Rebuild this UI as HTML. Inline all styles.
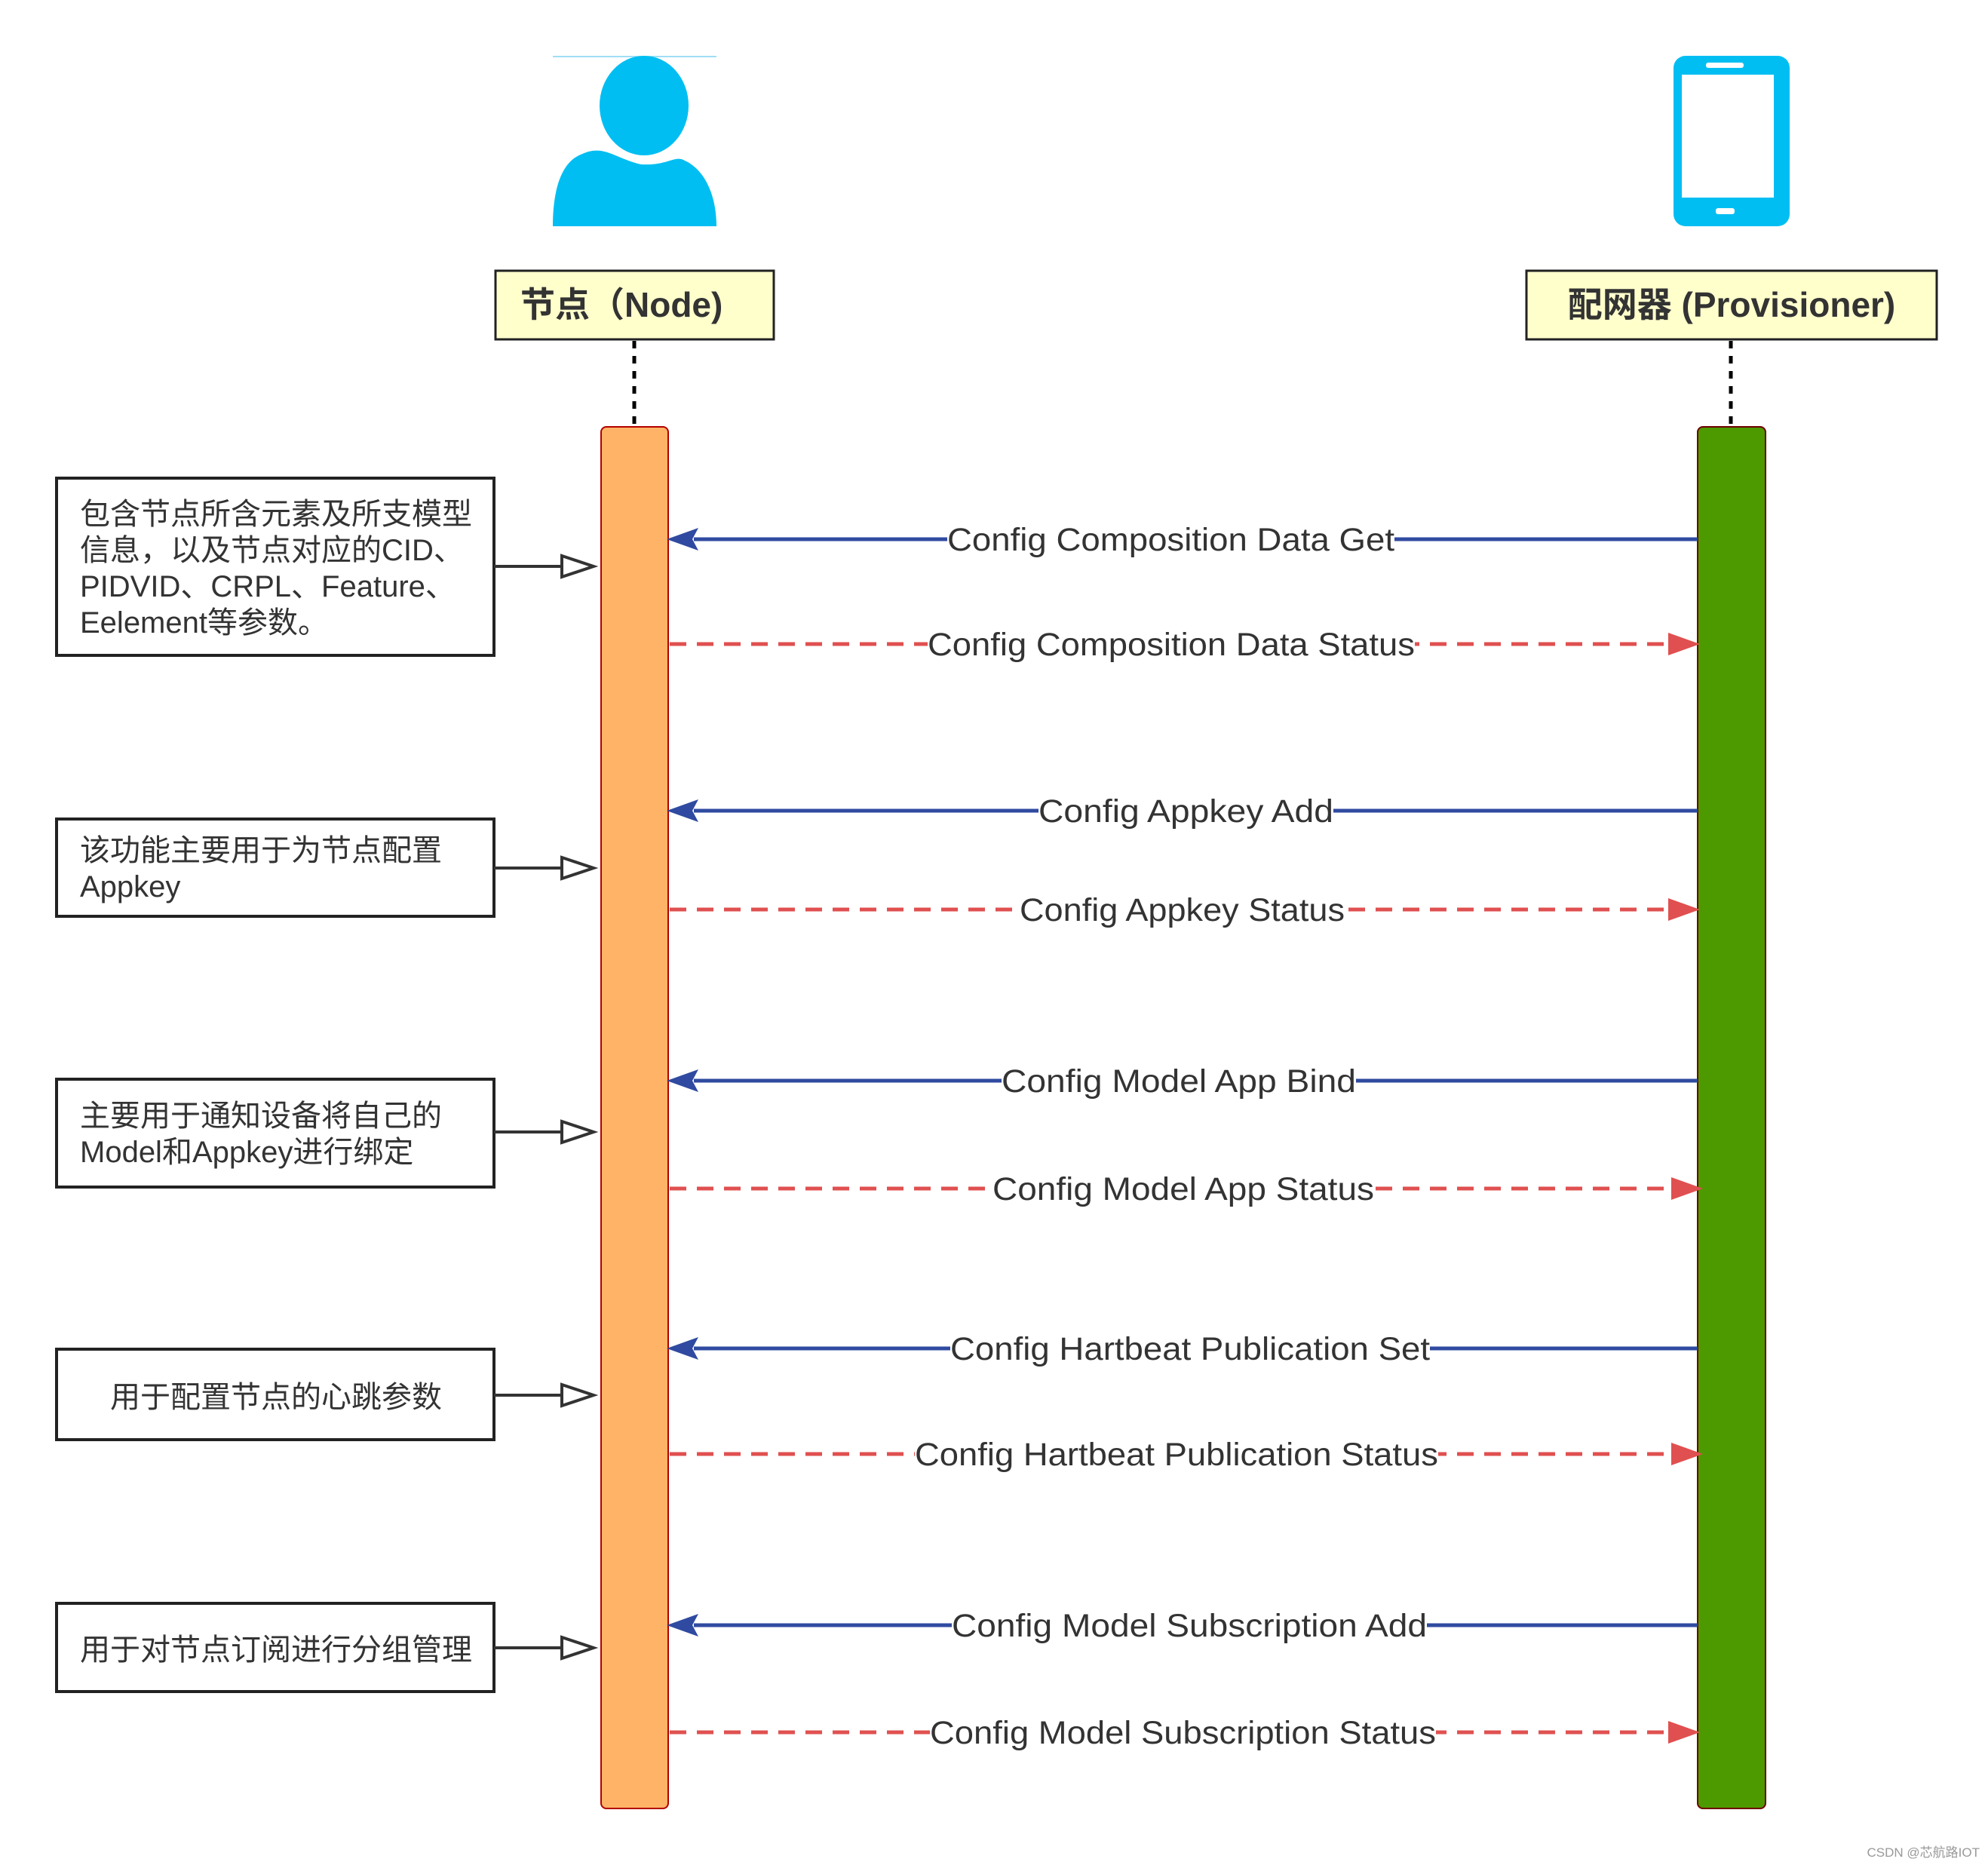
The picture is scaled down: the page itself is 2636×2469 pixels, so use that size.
<!DOCTYPE html>
<html><head><meta charset="utf-8"><style>
html,body{margin:0;padding:0;background:#fff;}
svg{display:block;}
.lbl{font-family:"Liberation Sans","Noto Sans CJK SC",sans-serif;font-size:43px;fill:#333;}
.bx{font-family:"Liberation Sans","Noto Sans CJK SC",sans-serif;font-size:40px;fill:#333;}
.hd{font-family:"Liberation Sans","Noto Sans CJK SC",sans-serif;font-size:46px;font-weight:bold;fill:#333;}
</style></head><body>
<svg width="2636" height="2469" viewBox="0 0 2636 2469" xmlns="http://www.w3.org/2000/svg">
<line x1="733" y1="75" x2="950" y2="75" stroke="#9fdff5" stroke-width="2"/>
<ellipse cx="854" cy="140" rx="59" ry="66" fill="#00BEF2"/>
<path d="M733,300 C733,250 745,215 770,205 C800,190 815,210 850,218 C885,220 895,205 908,213 C935,225 950,260 950,300 Z" fill="#00BEF2"/>
<rect x="2219" y="74" width="154" height="226" rx="16" fill="#00BEF2"/>
<rect x="2230" y="99" width="122" height="163" fill="#fff"/>
<rect x="2262" y="83" width="50" height="7" rx="3" fill="#fff"/>
<rect x="2275" y="276" width="25" height="8" rx="3" fill="#fff"/>
<rect x="657" y="359" width="369" height="91" fill="#FFFFCC" stroke="#222" stroke-width="3"/>
<text x="690" y="420" class="hd">节点（Node)</text>
<rect x="2024" y="359" width="544" height="91" fill="#FFFFCC" stroke="#222" stroke-width="3"/>
<text x="2296" y="420" class="hd" text-anchor="middle">配网器 (Provisioner)</text>
<line x1="841" y1="452" x2="841" y2="566" stroke="#000" stroke-width="5" stroke-dasharray="10,10"/>
<line x1="2295" y1="452" x2="2295" y2="566" stroke="#000" stroke-width="5" stroke-dasharray="10,10"/>
<rect x="797" y="566" width="89" height="1832" rx="7" fill="#FFB366" stroke="#B20000" stroke-width="2"/>
<rect x="2251" y="566" width="90" height="1832" rx="7" fill="#4D9900" stroke="#6F0000" stroke-width="2"/>
<g stroke-width="5">
<g stroke="#2F4AA0" fill="#2F4AA0">
<line x1="2251" y1="715" x2="920" y2="715"/><polygon points="884,715 926,700 918,715 926,730" stroke="none"/>
<line x1="2251" y1="1075" x2="920" y2="1075"/><polygon points="884,1075 926,1060 918,1075 926,1090" stroke="none"/>
<line x1="2251" y1="1433" x2="920" y2="1433"/><polygon points="884,1433 926,1418 918,1433 926,1448" stroke="none"/>
<line x1="2251" y1="1788" x2="920" y2="1788"/><polygon points="884,1788 926,1773 918,1788 926,1803" stroke="none"/>
<line x1="2251" y1="2155" x2="920" y2="2155"/><polygon points="884,2155 926,2140 918,2155 926,2170" stroke="none"/>
</g>
<g stroke="#E05050" fill="#E05050" stroke-dasharray="22,14">
<line x1="888" y1="854" x2="2215" y2="854"/>
<line x1="888" y1="1206" x2="2215" y2="1206"/>
<line x1="888" y1="1576" x2="2215" y2="1576"/>
<line x1="888" y1="1928" x2="2215" y2="1928"/>
<line x1="888" y1="2297" x2="2215" y2="2297"/>
</g>
<g fill="#E05050">
<polygon points="2254,854 2212,839 2212,869"/>
<polygon points="2254,1206 2212,1191 2212,1221"/>
<polygon points="2258,1576 2216,1561 2216,1591"/>
<polygon points="2258,1928 2216,1913 2216,1943"/>
<polygon points="2254,2297 2212,2282 2212,2312"/>
</g>
</g>
<g fill="#fff">
<rect x="1256" y="690" width="593" height="50"/>
<rect x="1230" y="829" width="646" height="50"/>
<rect x="1377" y="1050" width="391" height="50"/>
<rect x="1352" y="1181" width="431" height="50"/>
<rect x="1328" y="1408" width="470" height="50"/>
<rect x="1316" y="1551" width="506" height="50"/>
<rect x="1260" y="1763" width="636" height="50"/>
<rect x="1213" y="1903" width="694" height="50"/>
<rect x="1262" y="2130" width="630" height="50"/>
<rect x="1233" y="2272" width="671" height="50"/>
</g>
<text class="lbl" x="1256" y="730" textLength="593" lengthAdjust="spacingAndGlyphs">Config Composition Data Get</text>
<text class="lbl" x="1230" y="869" textLength="646" lengthAdjust="spacingAndGlyphs">Config Composition Data Status</text>
<text class="lbl" x="1377" y="1090" textLength="391" lengthAdjust="spacingAndGlyphs">Config Appkey Add</text>
<text class="lbl" x="1352" y="1221" textLength="431" lengthAdjust="spacingAndGlyphs">Config Appkey Status</text>
<text class="lbl" x="1328" y="1448" textLength="470" lengthAdjust="spacingAndGlyphs">Config Model App Bind</text>
<text class="lbl" x="1316" y="1591" textLength="506" lengthAdjust="spacingAndGlyphs">Config Model App Status</text>
<text class="lbl" x="1260" y="1803" textLength="636" lengthAdjust="spacingAndGlyphs">Config Hartbeat Publication Set</text>
<text class="lbl" x="1213" y="1943" textLength="694" lengthAdjust="spacingAndGlyphs">Config Hartbeat Publication Status</text>
<text class="lbl" x="1262" y="2170" textLength="630" lengthAdjust="spacingAndGlyphs">Config Model Subscription Add</text>
<text class="lbl" x="1233" y="2312" textLength="671" lengthAdjust="spacingAndGlyphs">Config Model Subscription Status</text>
<g fill="#fff" stroke="#222" stroke-width="4">
<rect x="75" y="634" width="580" height="235"/>
<rect x="75" y="1086" width="580" height="129"/>
<rect x="75" y="1431" width="580" height="143"/>
<rect x="75" y="1789" width="580" height="120"/>
<rect x="75" y="2126" width="580" height="117"/>
</g>
<g stroke="#333" stroke-width="4" fill="#fff">
<line x1="655" y1="751" x2="745" y2="751"/><polygon points="745,737 745,765 787,751"/>
<line x1="655" y1="1151" x2="745" y2="1151"/><polygon points="745,1137 745,1165 787,1151"/>
<line x1="655" y1="1501" x2="745" y2="1501"/><polygon points="745,1487 745,1515 787,1501"/>
<line x1="655" y1="1850" x2="745" y2="1850"/><polygon points="745,1836 745,1864 787,1850"/>
<line x1="655" y1="2185" x2="745" y2="2185"/><polygon points="745,2171 745,2199 787,2185"/>
</g>
<text class="bx" x="106" y="695">包含节点所含元素及所支模型</text>
<text class="bx" x="106" y="743">信息，以及节点对应的CID、</text>
<text class="bx" x="106" y="791">PIDVID、CRPL、Feature、</text>
<text class="bx" x="106" y="839">Eelement等参数。</text>
<text class="bx" x="106" y="1141">该功能主要用于为节点配置</text>
<text class="bx" x="106" y="1189">Appkey</text>
<text class="bx" x="106" y="1493">主要用于通知设备将自己的</text>
<text class="bx" x="106" y="1541">Model和Appkey进行绑定</text>
<text class="bx" x="366" y="1866" text-anchor="middle">用于配置节点的心跳参数</text>
<text class="bx" x="366" y="2201" text-anchor="middle">用于对节点订阅进行分组管理</text>
<text x="2625" y="2462" text-anchor="end" font-family="Liberation Sans, Noto Sans CJK SC, sans-serif" font-size="17" fill="#999">CSDN @芯航路IOT</text>
</svg>
</body></html>
